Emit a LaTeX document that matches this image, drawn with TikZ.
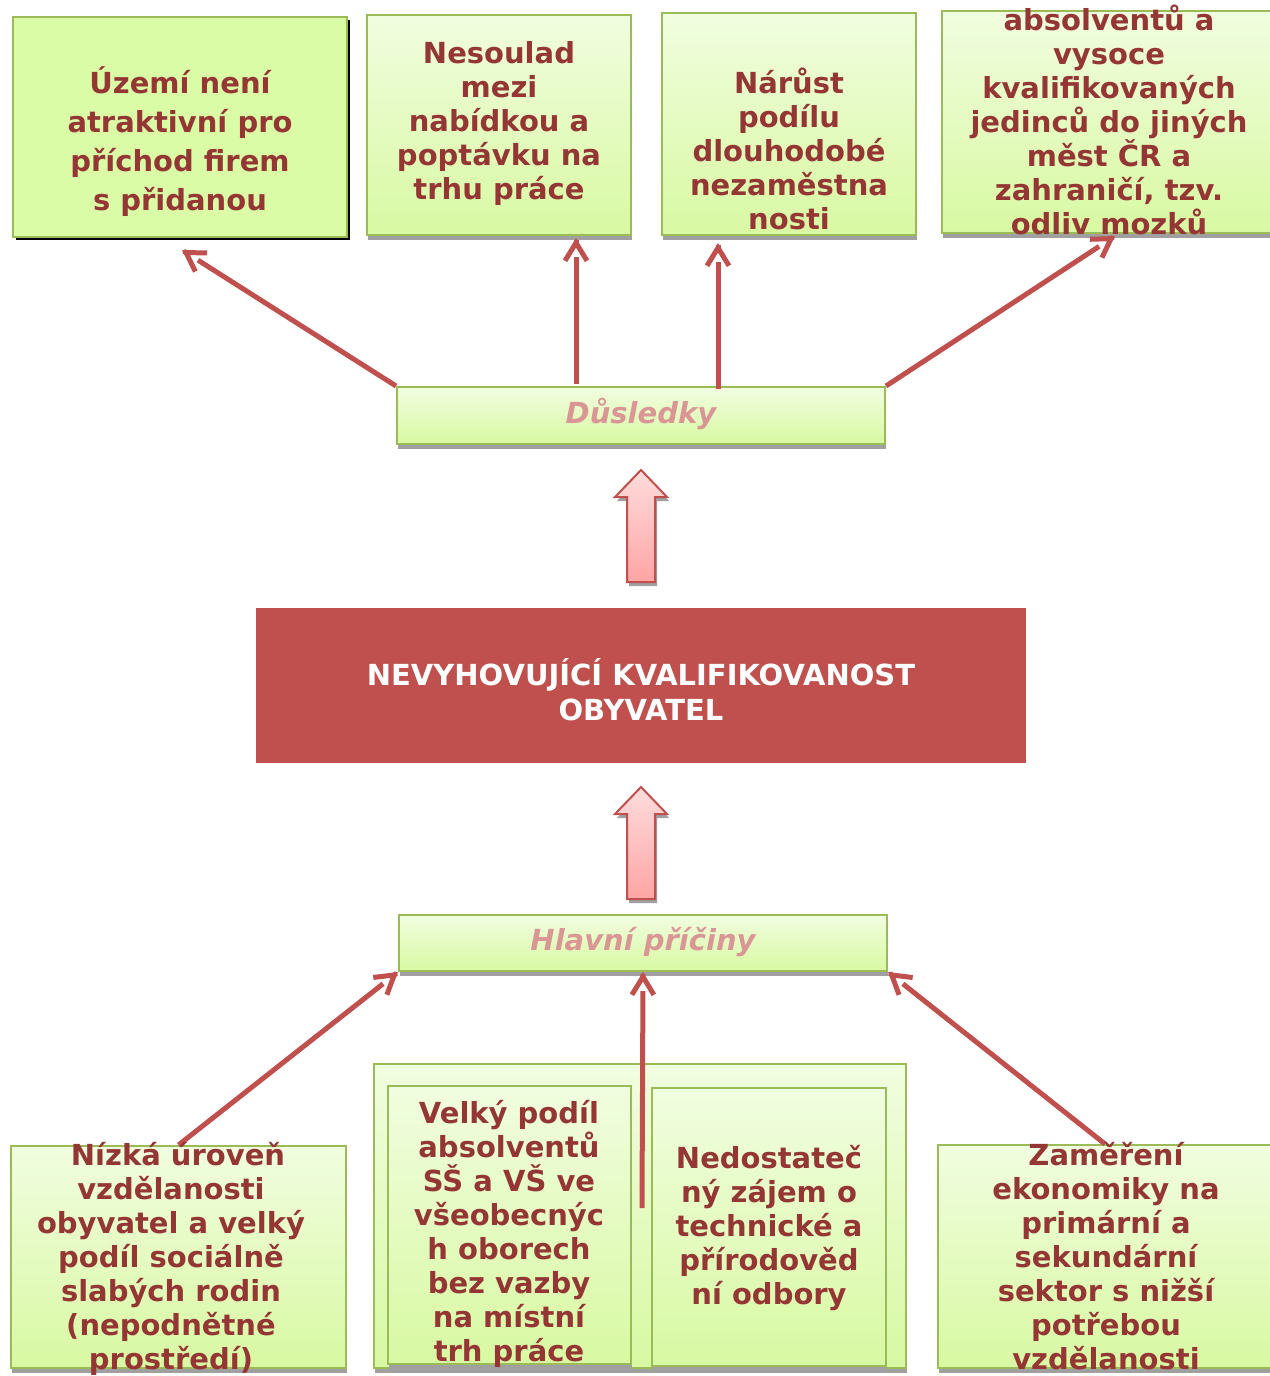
\documentclass[tikz,border=0pt]{standalone}
\usepackage{fontspec}
\setmainfont{DejaVu Sans}
\usetikzlibrary{arrows.meta,fit,shadows,calc}
\definecolor{txtc}{HTML}{943634}
\definecolor{redc}{HTML}{C0504D}
\definecolor{bordc}{HTML}{9BBB59}
\definecolor{gtop}{HTML}{F1FDE0}
\definecolor{gbot}{HTML}{D8F9A2}
\definecolor{gflat}{HTML}{DAFCA6}
\definecolor{shad}{HTML}{A0A0A0}
\definecolor{pinkt}{HTML}{DA9695}
\definecolor{atop}{HTML}{FFDCDC}
\definecolor{abot}{HTML}{FFA4A4}
\newcommand\myconn[2]{%
  \draw[shaftst] (#1) -- ($(#2)!9.5pt!(#1)$);
  \draw[headst] ($(#2)!1pt!(#1)$) -- (#2);}
\begin{document}
\begin{tikzpicture}[x=0.5pt,y=-0.5pt,
  gbox/.style={draw=bordc, line width=1pt, top color=gtop, bottom color=gbot, inner sep=0pt,
    drop shadow={shadow xshift=0.5pt, shadow yshift=-2.5pt, fill=shad, opacity=1}},
  flatbox/.style={draw=bordc, line width=1pt, fill=gflat, inner sep=0pt,
    drop shadow={shadow xshift=1.5pt, shadow yshift=-1.5pt, fill=black, opacity=1}},
  txt/.style={text=txtc, font=\bfseries\fontsize{14.5}{17}\selectfont, align=center, inner sep=0pt},
  ttl/.style={text=pinkt, font=\bfseries\itshape\fontsize{14.5}{17}\selectfont, inner sep=0pt},
  shaftst/.style={draw=redc, line width=2.5pt},
  headst/.style={draw=redc, line width=2.5pt, -{Straight Barb[length=9pt,width=11pt]}},
  blk/.style={draw=redc, line width=1pt, top color=atop, bottom color=abot},
  blkshad/.style={fill=shad}
]
\useasboundingbox (0,0) rectangle (1269,1376);

% top row boxes
\node[flatbox, fit={(13,17)(347,237)}] (uz) {};
\node[gbox, fit={(367,15)(631,235)}] (nes) {};
\node[gbox, fit={(662,13)(916,235)}] (nar) {};
\node[gbox, fit={(942,11)(1275,233)}] (abs) {};

\node[txt, font=\bfseries\fontsize{14.5}{19.5}\selectfont] (tuz) at (180,142) {Území není\\atraktivní pro\\příchod firem\\s přidanou};
\node[txt] (tnes) at (499,123) {Nesoulad\\mezi\\nabídkou a\\poptávku na\\trhu práce};
\node[txt] (tnar) at (789,149) {Nárůst\\podílu\\dlouhodobé\\nezaměstna\\nosti};
\node[txt] (tabs) at (1109,119.5) {absolventů a\\vysoce\\kvalifikovaných\\jedinců do jiných\\měst ČR a\\zahraničí, tzv.\\odliv mozků};

% Dusledky
\node[gbox, fit={(397,387)(885,444)}] (dus) {};
\node[ttl] (tdus) at (641,414) {Důsledky};

% block arrow 1
\fill[blkshad] (643,474) -- (669,501) -- (657,501) -- (657,586) -- (629,586) -- (629,501) -- (617,501) -- cycle;
\path[blk] (641,470) -- (667,497) -- (655,497) -- (655,582) -- (627,582) -- (627,497) -- (615,497) -- cycle;

% main box
\node[fill=redc, inner sep=0pt, fit={(256,608)(1026,763)}] (main) {};
\node[text=white, font=\bfseries\fontsize{14.5}{17.5}\selectfont, align=center, inner sep=0pt] (tmain) at (641,690) {NEVYHOVUJÍCÍ KVALIFIKOVANOST\\OBYVATEL};

% block arrow 2
\fill[blkshad] (643,791) -- (669,818) -- (657,818) -- (657,903) -- (629,903) -- (629,818) -- (617,818) -- cycle;
\path[blk] (641,787) -- (667,814) -- (655,814) -- (655,899) -- (627,899) -- (627,814) -- (615,814) -- cycle;

% Hlavni priciny
\node[gbox, fit={(399,915)(887,971)}] (hl) {};
\node[ttl] (thl) at (643,942) {Hlavní příčiny};

% bottom row boxes
\node[gbox, fit={(11,1146)(346,1368)}] (niz) {};
\node[gbox, fit={(374,1064)(906,1368)}] (outer) {};
\node[gbox, fit={(388,1086)(631,1364)}] (vel) {};
\node[gbox, fit={(652,1088)(886,1366)}] (ned) {};
\node[gbox, fit={(938,1145)(1272,1368)}] (zam) {};

% connectors top
\coordinate (e1) at (182,250);
\coordinate (s2) at (576,384);
\coordinate (e2) at (576,238);
\coordinate (s3) at (718,389);
\coordinate (e3) at (718,243);
\coordinate (e4) at (1115,236);
\myconn{dus.north west}{e1}
\myconn{s2}{e2}
\myconn{s3}{e3}
\myconn{dus.north east}{e4}

% connectors bottom
\coordinate (s6) at (642,1208);
\myconn{niz.north}{hl.south west}
\myconn{s6}{hl.south}
\myconn{zam.north}{hl.south east}

\node[txt] (tniz) at (171,1259) {\hspace*{7pt}Nízká úroveň\\vzdělanosti\\obyvatel a velký\\podíl sociálně\\slabých rodin\\(nepodnětné\\prostředí)};
\node[txt] (tvel) at (509,1234) {Velký podíl\\absolventů\\SŠ a VŠ ve\\všeobecnýc\\h oborech\\bez vazby\\na místní\\trh práce};
\node[txt] (tned) at (769,1228) {Nedostateč\\ný zájem o\\technické a\\přírodověd\\ní odbory};
\node[txt] (tzam) at (1106,1256) {Zaměření\\ekonomiky na\\primární a\\sekundární\\sektor s nižší\\potřebou\\vzdělanosti};
\end{tikzpicture}
\end{document}
